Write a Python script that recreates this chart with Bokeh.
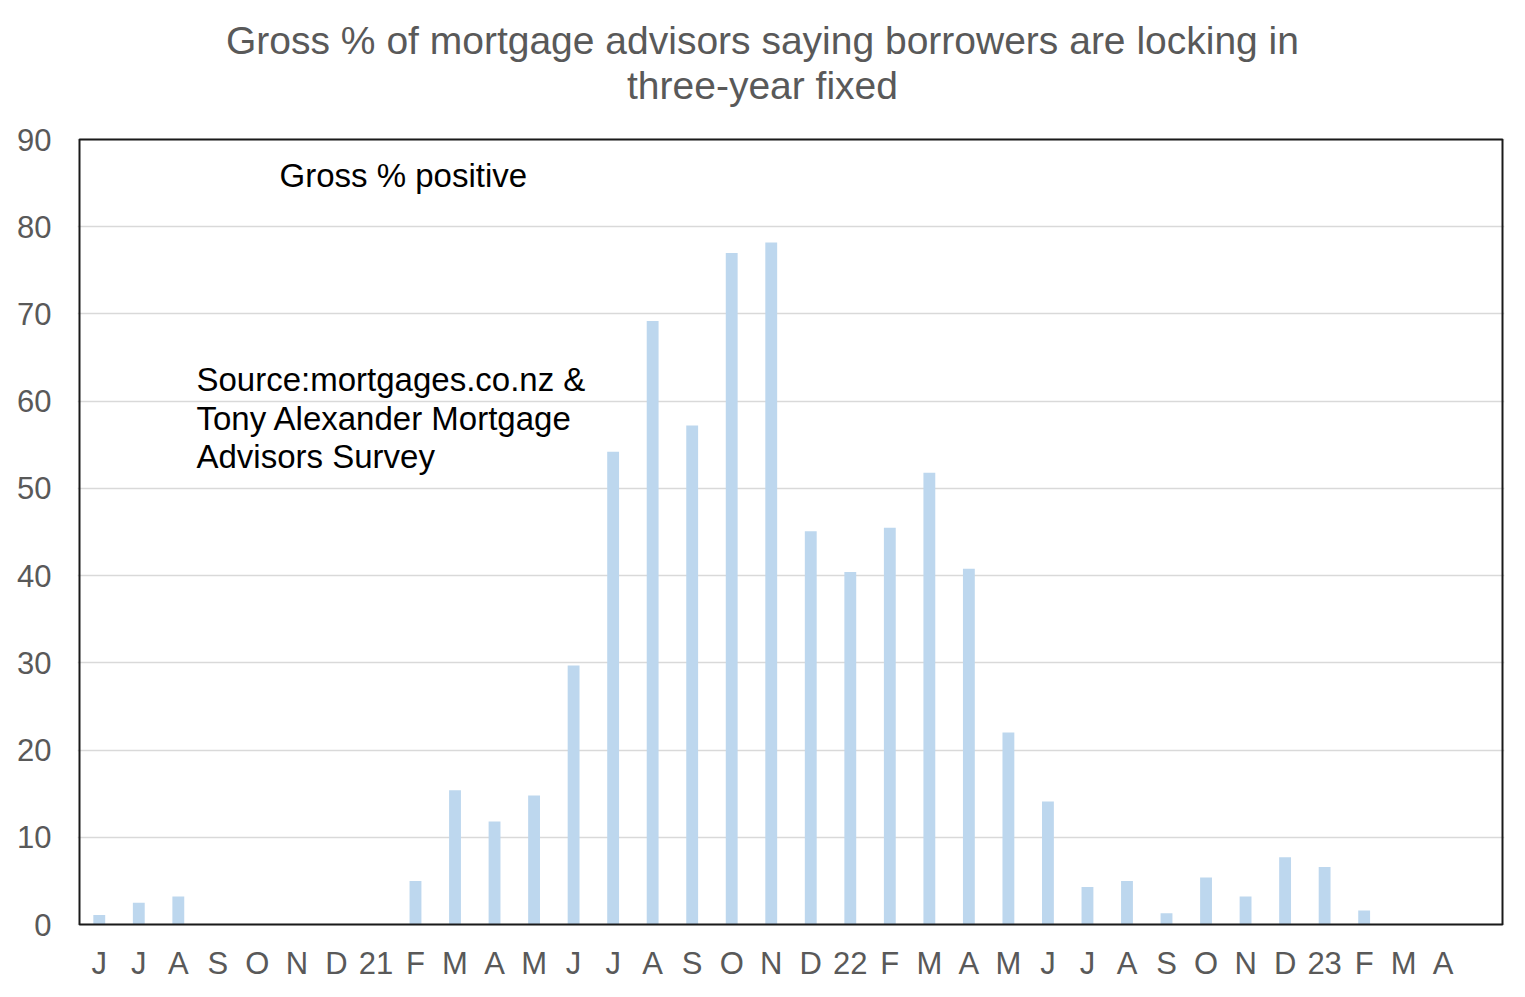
from bokeh.plotting import figure
from bokeh.models import Label, FixedTicker, Range1d, BoxAnnotation
from bokeh.embed import file_html
from bokeh.resources import INLINE

# ---- data ----
month_labels = ["J", "J", "A", "S", "O", "N", "D", "21", "F", "M", "A", "M",
                "J", "J", "A", "S", "O", "N", "D", "22", "F", "M", "A", "M",
                "J", "J", "A", "S", "O", "N", "D", "23", "F", "M", "A", ""]
gross_positive = [1.1, 2.5, 3.2, 0, 0, 0, 0, 0, 5.0, 15.4, 11.8, 14.8,
                  29.7, 54.2, 69.2, 57.2, 77.0, 78.2, 45.1, 40.4, 45.5, 51.8, 40.8, 22.0,
                  14.1, 4.3, 5.0, 1.3, 5.4, 3.2, 7.7, 6.6, 1.6, 0, 0, 0]
y_ticks = [0, 10, 20, 30, 40, 50, 60, 70, 80, 90]

title_lines = ["Gross % of mortgage advisors saying borrowers are locking in",
               "three-year fixed"]
series_note = "Gross % positive"
source_lines = ["Source:mortgages.co.nz  &", "Tony Alexander  Mortgage", "Advisors Survey"]

FONT = "Liberation Sans"
GREY = "#595959"

n = len(month_labels)
xs = [i + 0.5 for i in range(n)]
y_max = y_ticks[-1]

# plot box in page px: x 79..1502, y 139..924
ppx = 1423 / n
ppy = 785 / y_max
W, H = 1517, 989
p = figure(width=W, height=H, output_backend="svg", toolbar_location=None,
           x_range=Range1d(-2 / ppx, n + 2 / ppx),
           y_range=Range1d(-2 / ppy, y_max + 139 / ppy),
           min_border_left=77, min_border_right=W - 1504,
           min_border_top=0, min_border_bottom=H - 926)

p.outline_line_color = None
p.background_fill_color = "white"
p.border_fill_color = "white"

p.xgrid.grid_line_color = None
p.ygrid.grid_line_color = "#D9D9D9"
p.ygrid.grid_line_width = 1.5
p.ygrid.ticker = FixedTicker(ticks=y_ticks)

p.vbar(x=xs, top=gross_positive, width=0.3, fill_color="#BDD7EE", line_color=None)

# plot-area border
p.add_layout(BoxAnnotation(left=0, right=n, bottom=0, top=y_max,
                           fill_alpha=0, line_color="#1a1a1a", line_alpha=1.0,
                           line_width=2))

p.xaxis.ticker = FixedTicker(ticks=xs)
p.xaxis.major_label_overrides = {x: lab for x, lab in zip(xs, month_labels)}
p.yaxis.ticker = FixedTicker(ticks=y_ticks)
for ax in (p.xaxis, p.yaxis):
    ax.axis_line_color = None
    ax.major_tick_line_color = None
    ax.minor_tick_line_color = None
    ax.major_tick_out = 0
    ax.major_tick_in = 0
    ax.major_label_text_font = FONT
    ax.major_label_text_font_size = "31px"
    ax.major_label_text_color = GREY
p.xaxis.major_label_standoff = 19
p.yaxis.major_label_standoff = 26

# pixel -> data helpers for annotation placement
def dx(px):
    return (px - 79) / ppx

def dy(py):
    return (924 - py) / ppy

for i, line in enumerate(title_lines):
    p.add_layout(Label(x=dx(762), y=dy(40 + 45 * i), text=line, text_align="center",
                       text_baseline="middle", text_font=FONT, text_font_size="39px",
                       text_color=GREY))

p.add_layout(Label(x=dx(279), y=dy(175), text=series_note, text_align="left",
                   text_baseline="middle", text_font=FONT, text_font_size="33px",
                   text_color="black"))
for i, line in enumerate(source_lines):
    p.add_layout(Label(x=dx(196), y=dy(379 + 38.5 * i), text=line, text_align="left",
                       text_baseline="middle", text_font=FONT, text_font_size="33px",
                       text_color="black"))

open("out.html", "w").write(file_html(p, INLINE))
